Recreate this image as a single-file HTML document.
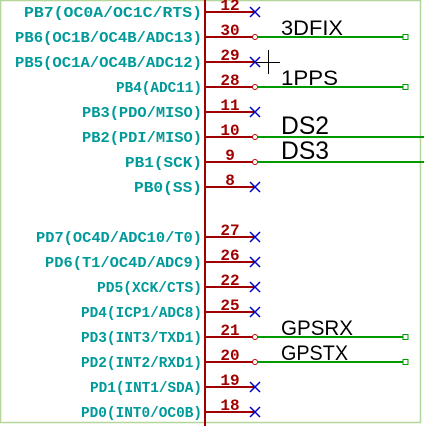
<!DOCTYPE html>
<html><head><style>html,body{margin:0;padding:0;background:#fff;}svg{display:block}</style></head>
<body>
<svg width="424" height="426" xmlns="http://www.w3.org/2000/svg">
<rect x="0.5" y="0.5" width="420" height="422" fill="none" stroke="#b5d69a" stroke-width="1.5"/>
<line x1="205" y1="0" x2="205" y2="426" stroke="#a00000" stroke-width="2"/>
<g font-family="Liberation Mono, monospace" font-weight="bold">
<g stroke="#a00000" stroke-width="2">
<line x1="205" y1="12" x2="255" y2="12"/><line x1="205" y1="37" x2="255" y2="37"/>
<line x1="205" y1="62" x2="255" y2="62"/><line x1="205" y1="87" x2="255" y2="87"/>
<line x1="205" y1="112" x2="255" y2="112"/><line x1="205" y1="137" x2="255" y2="137"/>
<line x1="205" y1="162" x2="255" y2="162"/><line x1="205" y1="187" x2="255" y2="187"/>
<line x1="205" y1="237" x2="255" y2="237"/><line x1="205" y1="262" x2="255" y2="262"/>
<line x1="205" y1="287" x2="255" y2="287"/><line x1="205" y1="312" x2="255" y2="312"/>
<line x1="205" y1="337" x2="255" y2="337"/><line x1="205" y1="362" x2="255" y2="362"/>
<line x1="205" y1="387" x2="255" y2="387"/><line x1="205" y1="412" x2="255" y2="412"/>
</g>
<g fill="#009a9a" font-size="15" text-anchor="end">
<text x="202" y="17" textLength="178" lengthAdjust="spacingAndGlyphs">PB7(OC0A/OC1C/RTS)</text>
<text x="202" y="42" textLength="187" lengthAdjust="spacingAndGlyphs">PB6(OC1B/OC4B/ADC13)</text>
<text x="202" y="67" textLength="187" lengthAdjust="spacingAndGlyphs">PB5(OC1A/OC4B/ADC12)</text>
<text x="202" y="92" textLength="86" lengthAdjust="spacingAndGlyphs">PB4(ADC11)</text>
<text x="202" y="117" textLength="120" lengthAdjust="spacingAndGlyphs">PB3(PDO/MISO)</text>
<text x="202" y="142" textLength="120" lengthAdjust="spacingAndGlyphs">PB2(PDI/MISO)</text>
<text x="202" y="167" textLength="77" lengthAdjust="spacingAndGlyphs">PB1(SCK)</text>
<text x="202" y="192" textLength="68" lengthAdjust="spacingAndGlyphs">PB0(SS)</text>
<text x="202" y="242" textLength="166" lengthAdjust="spacingAndGlyphs">PD7(OC4D/ADC10/T0)</text>
<text x="202" y="267" textLength="157" lengthAdjust="spacingAndGlyphs">PD6(T1/OC4D/ADC9)</text>
<text x="202" y="292" textLength="105" lengthAdjust="spacingAndGlyphs">PD5(XCK/CTS)</text>
<text x="202" y="317" textLength="121" lengthAdjust="spacingAndGlyphs">PD4(ICP1/ADC8)</text>
<text x="202" y="342" textLength="121" lengthAdjust="spacingAndGlyphs">PD3(INT3/TXD1)</text>
<text x="202" y="367" textLength="121" lengthAdjust="spacingAndGlyphs">PD2(INT2/RXD1)</text>
<text x="202" y="392" textLength="112" lengthAdjust="spacingAndGlyphs">PD1(INT1/SDA)</text>
<text x="202" y="417" textLength="121" lengthAdjust="spacingAndGlyphs">PD0(INT0/OC0B)</text>
</g>
<g fill="#a00000" font-size="16" text-anchor="middle">
<text x="230" y="10">12</text><text x="230" y="35">30</text><text x="230" y="60">29</text><text x="230" y="85">28</text>
<text x="230" y="110">11</text><text x="230" y="135">10</text><text x="230" y="160">9</text><text x="230" y="185">8</text>
<text x="230" y="235">27</text><text x="230" y="260">26</text><text x="230" y="285">22</text><text x="230" y="310">25</text>
<text x="230" y="335">21</text><text x="230" y="360">20</text><text x="230" y="385">19</text><text x="230" y="410">18</text>
</g>
</g>
<g stroke="#0000c0" stroke-width="1.5">
<path d="M250 7l10 10M260 7l-10 10"/><path d="M250 57l10 10M260 57l-10 10"/>
<path d="M250 107l10 10M260 107l-10 10"/><path d="M250 182l10 10M260 182l-10 10"/>
<path d="M250 232l10 10M260 232l-10 10"/><path d="M250 257l10 10M260 257l-10 10"/>
<path d="M250 282l10 10M260 282l-10 10"/><path d="M250 307l10 10M260 307l-10 10"/>
<path d="M250 382l10 10M260 382l-10 10"/><path d="M250 407l10 10M260 407l-10 10"/>
</g>
<g stroke="#009a00" stroke-width="2">
<line x1="258" y1="37" x2="403" y2="37"/><line x1="258" y1="87" x2="403" y2="87"/>
<line x1="258" y1="137" x2="424" y2="137"/><line x1="258" y1="162" x2="424" y2="162"/>
<line x1="258" y1="337" x2="403" y2="337"/><line x1="258" y1="362" x2="403" y2="362"/>
</g>
<g fill="#fff" stroke="#009a00" stroke-width="1">
<rect x="403" y="34.5" width="5" height="5"/><rect x="403" y="84.5" width="5" height="5"/>
<rect x="403" y="334.5" width="5" height="5"/><rect x="403" y="359.5" width="5" height="5"/>
</g>
<g fill="#fff" stroke="#c00000" stroke-width="1">
<circle cx="255" cy="37" r="2.5"/><circle cx="255" cy="87" r="2.5"/>
<circle cx="255" cy="137" r="2.5"/><circle cx="255" cy="162" r="2.5"/>
<circle cx="255" cy="337" r="2.5"/><circle cx="255" cy="362" r="2.5"/>
</g>
<g fill="#000" font-family="Liberation Sans, sans-serif">
<text x="281" y="35" font-size="21" textLength="62" lengthAdjust="spacingAndGlyphs">3DFIX</text>
<text x="281" y="85" font-size="21" textLength="57" lengthAdjust="spacingAndGlyphs">1PPS</text>
<text x="281" y="134" font-size="25" textLength="48" lengthAdjust="spacingAndGlyphs">DS2</text>
<text x="281" y="159" font-size="25" textLength="48" lengthAdjust="spacingAndGlyphs">DS3</text>
<text x="281" y="335" font-size="21" textLength="72" lengthAdjust="spacingAndGlyphs">GPSRX</text>
<text x="281" y="360" font-size="21" textLength="67" lengthAdjust="spacingAndGlyphs">GPSTX</text>
</g>
<g stroke="#000" stroke-width="1">
<line x1="256" y1="62.5" x2="280" y2="62.5"/><line x1="268.5" y1="50" x2="268.5" y2="74"/>
</g>
</svg>
</body></html>
